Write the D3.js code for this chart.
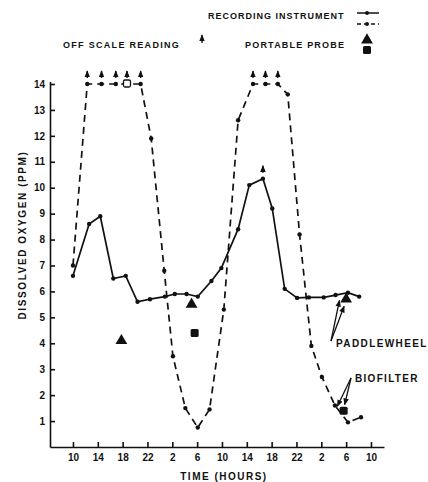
<!DOCTYPE html>
<html>
<head>
<meta charset="utf-8">
<script src="https://cdn.jsdelivr.net/npm/d3@7"></script>
<style>
    body { margin: 0; background: #fff; }
    svg { display: block; }
    text { font-family: "Liberation Sans", Arial, sans-serif; font-weight: bold; fill: #111; }
</style>
</head>
<body>
<svg id="chart"></svg>
<script>
// hours since 10:00 on day one, and the clock labels on the time axis
const tickTimes = [0, 4, 8, 12, 16, 20, 24, 28, 32, 36, 40, 44, 48];
const tickHours = [10, 14, 18, 22, 2, 6, 10, 14, 18, 22, 2, 6, 10];
const yTicks = [1, 2, 3, 4, 5, 6, 7, 8, 9, 10, 11, 12, 13, 14];

// recording instrument, paddlewheel (solid)
const paddleTime = [0, 2.6, 4.4, 6.5, 8.5, 10.4, 12.4, 14.8, 16.4, 18.3, 20.1, 22.3, 23.9, 26.6, 28.4, 30.6, 32.1, 34.1, 36.1, 38.0, 40.4, 42.3, 44.3, 46.1];
const paddleDO = [6.6, 8.6, 8.9, 6.5, 6.6, 5.6, 5.7, 5.8, 5.9, 5.9, 5.8, 6.4, 6.9, 8.4, 10.1, 10.35, 9.2, 6.1, 5.75, 5.77, 5.77, 5.86, 5.95, 5.8];

// recording instrument, biofilter (dashed)
const bioTime = [0, 2.3, 4.6, 6.9, 8.7, 10.9, 12.6, 14.7, 16.1, 18.1, 20.1, 22.0, 24.3, 26.6, 29.0, 31.0, 33.0, 34.6, 36.5, 38.4, 40.1, 42.2, 44.3, 46.4];
const bioDO = [7.0, 14, 14, 14, 14, 14, 11.9, 6.8, 3.5, 1.5, 0.75, 1.45, 5.3, 12.6, 14, 14, 14, 13.6, 8.2, 3.9, 2.7, 1.6, 0.95, 1.15];

// off scale readings (arrow drawn above the point)
const offTime = [2.3, 4.6, 6.9, 8.7, 10.9, 29.0, 31.0, 33.0, 30.6];
const offDO = [14, 14, 14, 14, 14, 14, 14, 14, 10.35];

// portable probe
const paddleProbeTime = [7.8, 19.1, 44.0];
const paddleProbeDO = [4.1, 5.5, 5.7];
const bioProbeTime = [19.6, 43.6];
const bioProbeDO = [4.4, 1.4];
const openProbeTime = [8.7];
const openProbeDO = [14];

const width = 428, height = 482;
const svg = d3.select("#chart").attr("width", width).attr("height", height);

const x = d3.scaleLinear().domain([-3.7, 50.1]).range([50, 384]);
const y = d3.scaleLinear().domain([0, 14.1]).range([447, 81.4]);

// arrow head marker
svg.append("defs").append("marker")
    .attr("id", "head")
    .attr("viewBox", "0 0 10 10")
    .attr("refX", 9).attr("refY", 5)
    .attr("markerWidth", 7).attr("markerHeight", 7)
    .attr("markerUnits", "userSpaceOnUse")
    .attr("orient", "auto")
    .append("path").attr("d", "M0,1 L10,5 L0,9 Z").attr("fill", "#111");

// axes
const yAxis = svg.append("g")
    .attr("transform", "translate(50,0)")
    .call(d3.axisLeft(y).tickValues(yTicks).tickSize(-5).tickSizeOuter(0).tickPadding(5));
const xAxis = svg.append("g")
    .attr("transform", "translate(0,447)")
    .call(d3.axisBottom(x).tickValues(tickTimes).tickFormat((d, i) => tickHours[i])
        .tickSize(-5).tickSizeOuter(0).tickPadding(7));

[yAxis, xAxis].forEach(g => {
    g.selectAll("path, line").attr("stroke", "#111").attr("stroke-width", 1.6);
    g.selectAll("text").style("font-size", "10px").style("font-family", "'Liberation Sans', Arial, sans-serif").style("font-weight", "bold").attr("fill", "#111");
});

// axis titles
svg.append("text")
    .attr("x", 224).attr("y", 480)
    .attr("text-anchor", "middle")
    .style("font-size", "10px").style("letter-spacing", "1.5px")
    .text("TIME  (HOURS)");

svg.append("text")
    .attr("transform", "translate(26,235) rotate(-90)")
    .attr("text-anchor", "middle")
    .style("font-size", "10px").style("letter-spacing", "1.6px")
    .text("DISSOLVED  OXYGEN  (PPM)");

const line = d3.line().x(d => x(d[0])).y(d => y(d[1]));
const paddle = paddleTime.map((t, i) => [t, paddleDO[i]]);
const bio = bioTime.map((t, i) => [t, bioDO[i]]);

svg.append("path")
    .attr("d", line(bio))
    .attr("fill", "none").attr("stroke", "#111")
    .attr("stroke-width", 1.7).attr("stroke-dasharray", "7,5");

svg.append("path")
    .attr("d", line(paddle))
    .attr("fill", "none").attr("stroke", "#111").attr("stroke-width", 1.7);

svg.selectAll(".dot")
    .data(paddle.concat(bio))
    .enter().append("circle")
    .attr("cx", d => x(d[0])).attr("cy", d => y(d[1]))
    .attr("r", 2.2).attr("fill", "#111");

// off scale arrows
offTime.forEach((t, i) => {
    svg.append("line")
        .attr("x1", x(t)).attr("x2", x(t))
        .attr("y1", y(offDO[i]) - 6).attr("y2", y(offDO[i]) - 13)
        .attr("stroke", "#111").attr("stroke-width", 1.4)
        .attr("marker-end", "url(#head)");
});

// portable probe
const tri = d3.symbol().type(d3.symbolTriangle).size(60);
paddleProbeTime.forEach((t, i) => {
    svg.append("path").attr("d", tri())
        .attr("transform", `translate(${x(t)},${y(paddleProbeDO[i])})`)
        .attr("fill", "#111");
});
bioProbeTime.forEach((t, i) => {
    svg.append("rect")
        .attr("x", x(t) - 4).attr("y", y(bioProbeDO[i]) - 4)
        .attr("width", 8).attr("height", 8).attr("rx", 1.5)
        .attr("fill", "#111");
});
openProbeTime.forEach((t, i) => {
    svg.append("rect")
        .attr("x", x(t) - 3.5).attr("y", y(openProbeDO[i]) - 4)
        .attr("width", 7).attr("height", 7).attr("rx", 1.5)
        .attr("fill", "#fff").attr("stroke", "#111").attr("stroke-width", 1.3);
});

// annotations
function pointer(x1, y1, x2, y2) {
    svg.append("line")
        .attr("x1", x1).attr("y1", y1).attr("x2", x2).attr("y2", y2)
        .attr("stroke", "#111").attr("stroke-width", 1.3)
        .attr("marker-end", "url(#head)");
}
svg.append("text").attr("x", 336).attr("y", 347)
    .style("font-size", "10px").style("letter-spacing", "1.4px")
    .text("PADDLEWHEEL");
pointer(331, 341, x(42.6) + 2, y(5.85) + 5);
pointer(331, 341, x(44.0) - 2, y(5.7) + 7);

svg.append("text").attr("x", 355).attr("y", 382)
    .style("font-size", "10px").style("letter-spacing", "1.3px")
    .text("BIOFILTER");
pointer(351, 378, x(42.1) + 3, y(1.65) + 2);
pointer(351, 378, x(43.6) + 1, y(1.4) - 6);

// legend
svg.append("text").attr("x", 208).attr("y", 19)
    .style("font-size", "9px").style("letter-spacing", "1px")
    .text("RECORDING INSTRUMENT");
svg.append("line").attr("x1", 357).attr("x2", 379).attr("y1", 13).attr("y2", 13)
    .attr("stroke", "#111").attr("stroke-width", 1.5);
svg.append("circle").attr("cx", 367).attr("cy", 13).attr("r", 2).attr("fill", "#111");
svg.append("line").attr("x1", 357).attr("x2", 379).attr("y1", 24).attr("y2", 24)
    .attr("stroke", "#111").attr("stroke-width", 1.5).attr("stroke-dasharray", "4,3");
svg.append("circle").attr("cx", 367).attr("cy", 24).attr("r", 2).attr("fill", "#111");

svg.append("text").attr("x", 63).attr("y", 48)
    .style("font-size", "9px").style("letter-spacing", "1.3px")
    .text("OFF SCALE READING");
svg.append("line").attr("x1", 202).attr("x2", 202).attr("y1", 43).attr("y2", 35)
    .attr("stroke", "#111").attr("stroke-width", 1.4).attr("marker-end", "url(#head)");

svg.append("text").attr("x", 245).attr("y", 48)
    .style("font-size", "9px").style("letter-spacing", "1.2px")
    .text("PORTABLE PROBE");
svg.append("path").attr("d", tri()).attr("transform", "translate(367,40)").attr("fill", "#111");
svg.append("rect").attr("x", 363).attr("y", 46).attr("width", 8).attr("height", 8).attr("rx", 1.5).attr("fill", "#111");
</script>
</body>
</html>
